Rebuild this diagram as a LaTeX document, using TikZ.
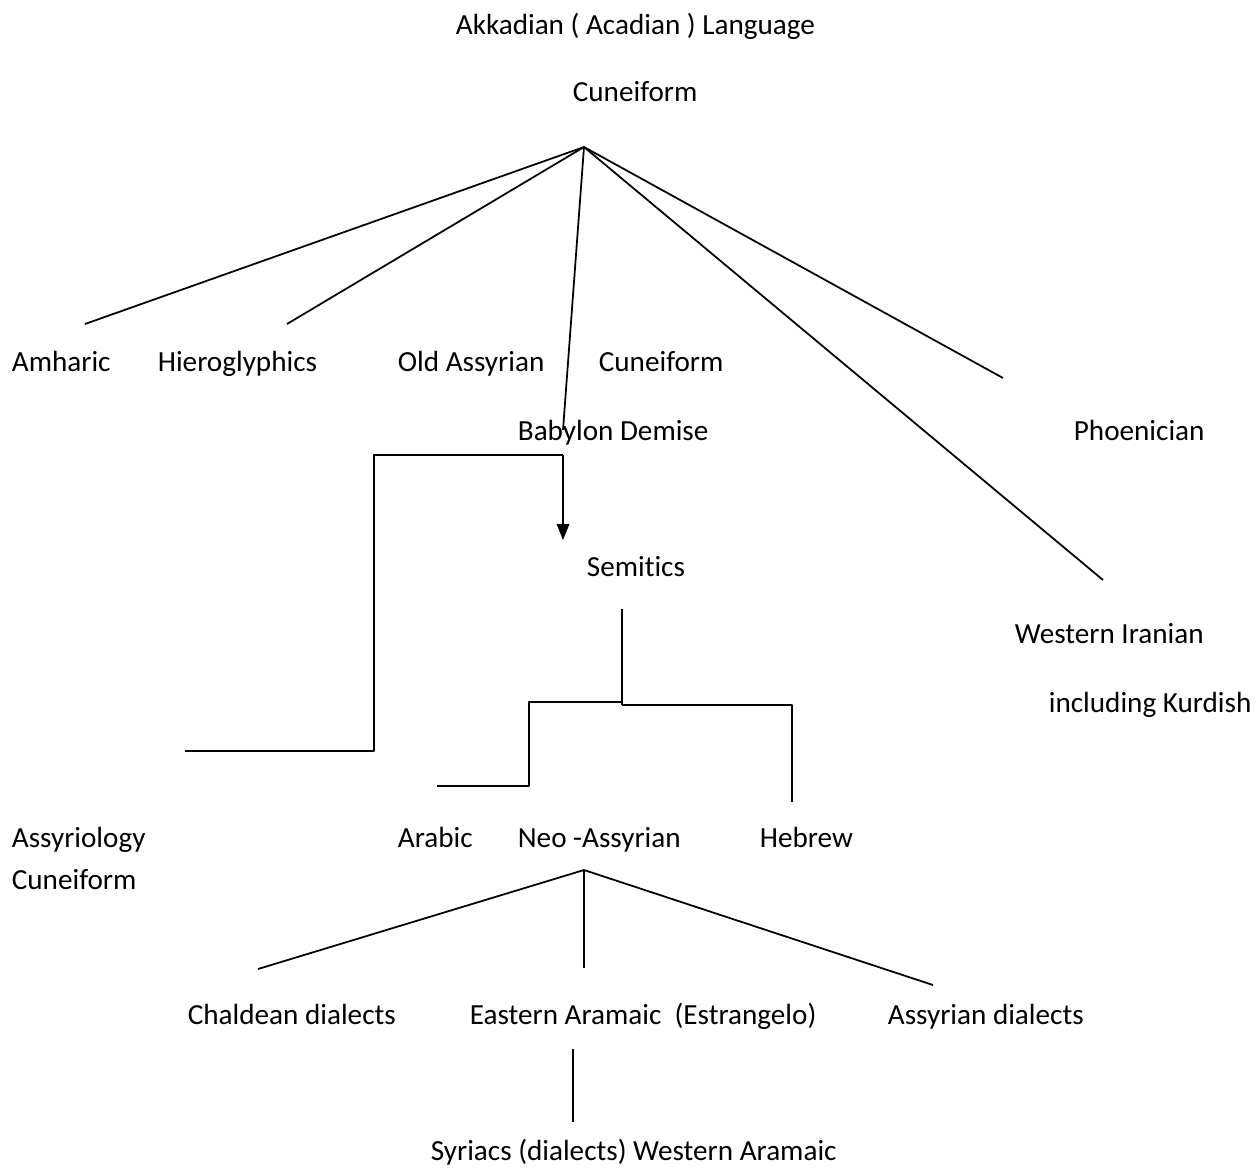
\documentclass[tikz,border=0pt]{standalone}
\usepackage{fontspec}
\setmainfont{Carlito}[Ligatures=NoCommon]
\usetikzlibrary{arrows.meta}
\tikzset{
  lang/.style={anchor=base west,inner sep=0pt,font=\fontsize{16.6}{20}\selectfont},
}
\begin{document}
\begin{tikzpicture}[>={Triangle[length=9pt,width=7pt]},line join=round,x=0.02cm,y=-0.02cm,line width=1pt]
				\useasboundingbox (0,0) rectangle (1257,1167);
				% top titles
				\node[lang] (akk) at (455,34) {Akkadian ( Acadian ) Language};
				\node[lang] (cun) at (572,101) {Cuneiform};
				% first row
				\node[lang] (amh) at (11,371) {Amharic};
				\node[lang] (hie) at (157,371) {Hieroglyphics};
				\node[lang] (old) at (397,371) {Old Assyrian};
				\node[lang] (cun2) at (598,371) {Cuneiform};
				\node[lang] (bab) at (517,440) {Babylon Demise};
				\node[lang] (pho) at (1073,440) {Phoenician};
				\node[lang] (sem) at (586,576) {Semitics};
				\node[lang] (wir) at (1014,643) {Western Iranian};
				\node[lang] (kur) at (1048,712) {including Kurdish};
				% second row
				\node[lang] (asy) at (11,847) {Assyriology};
				\node[lang] (cun3) at (11,889) {Cuneiform};
				\node[lang] (ara) at (397,847) {Arabic};
				\node[lang] (neo) at (517,847) {Neo -Assyrian};
				\node[lang] (heb) at (759,847) {Hebrew};
				\node[lang] (cha) at (187,1024) {Chaldean dialects};
				\node[lang] (eas) at (469,1024) {Eastern Aramaic\ \ (Estrangelo)};
				\node[lang] (asd) at (887,1024) {Assyrian dialects};
				\node[lang] (syr) at (430,1160) {Syriacs (dialects) Western Aramaic};
				% fan from Cuneiform
				\coordinate (top) at (584,147);
				\foreach \p in {(85,324),(287,324),(563,430),(1003,378),(1103,580)}{
					\draw (top)--\p;
				}
				% Babylon bracket and arrow
				\coordinate (b1) at (563,455);
				\coordinate (b2) at (185,751);
				\draw (b1)-|(374,751)--(b2);
				\draw[->] (b1)--(563,540);
				% Semitics branch
				\coordinate (s1) at (622,609);
				\draw (s1)--(622,705);
				\draw (622,702)-|(529,786)--(437,786);
				\draw (622,705)-|(792,802);
				% fan from Neo-Assyrian
				\coordinate (bot) at (584,870);
				\foreach \p in {(258,969),(584,968),(933,985)}{
					\draw (bot)--\p;
				}
				\draw (573,1049)--(573,1122);
			\end{tikzpicture}
\end{document}
